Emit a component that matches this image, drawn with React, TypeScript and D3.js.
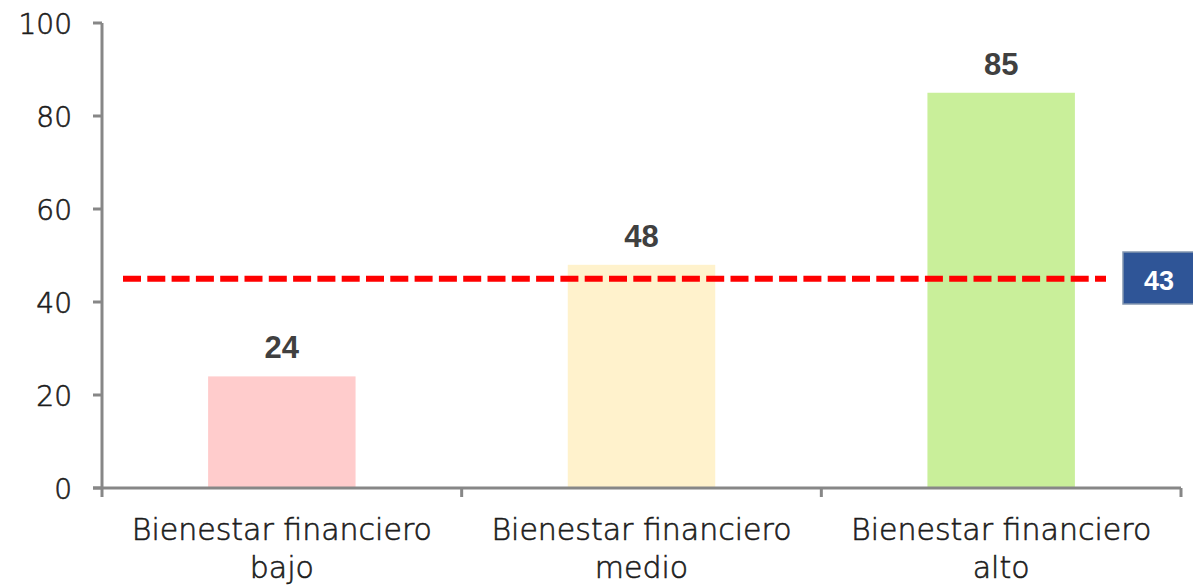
import React from "react";
import * as d3 from "d3";

const categories = ["Bienestar financiero bajo", "Bienestar financiero medio", "Bienestar financiero alto"];
const labelLines = [
  ["Bienestar financiero", "bajo"],
  ["Bienestar financiero", "medio"],
  ["Bienestar financiero", "alto"],
];
const values = [24, 48, 85];
const barColors = ["#FFCCCC", "#FFF2CC", "#C9EF9A"];
const yTicks = [0, 20, 40, 60, 80, 100];
const refValue = 45;
const refLabel = "43";

const W = 1193, H = 585;
const axisLeft = 102, axisRight = 1181;
const y0 = 488, yTop = 23;

export default function App() {
  const x = d3.scaleBand<string>().domain(categories).range([axisLeft, axisRight])
    .paddingInner(0.59).paddingOuter(0.295);
  const y = d3.scaleLinear().domain([0, 100]).range([y0, yTop]);
  const step = x.step();
  const boundaries = d3.range(categories.length + 1).map(i => axisLeft + i * step);
  const font = "'DejaVu Sans', sans-serif";
  const axisColor = "#878787";
  const ink = "#1c1c1c";

  return (
    <svg width={W} height={H} style={{ position: "absolute", left: 0, top: 0 }}>
      {/* bars */}
      {categories.map((c, i) => (
        <rect key={c} x={x(c)} y={y(values[i])} width={x.bandwidth()} height={y0 - y(values[i])} fill={barColors[i]} />
      ))}
      {/* value labels */}
      {categories.map((c, i) => (
        <text key={"v" + c} x={(x(c) as number) + x.bandwidth() / 2} y={y(values[i]) - 18}
          textAnchor="middle" fontFamily="'Liberation Sans', Arial, sans-serif" fontWeight="bold"
          fontSize={31} fill="#404040">{values[i]}</text>
      ))}
      {/* reference line */}
      <line x1={123} x2={1106} y1={y(refValue)} y2={y(refValue)} stroke="#FF0000" strokeWidth={6}
        strokeDasharray="18,6.3" />
      <rect x={1123} y={252} width={80} height={52} fill="#2F5597" stroke="#8497B0" strokeWidth={1.5} />
      <text x={1159} y={290} textAnchor="middle" fontFamily="'Liberation Sans', Arial, sans-serif"
        fontWeight="bold" fontSize={27} fill="#FFFFFF">{refLabel}</text>
      {/* y axis */}
      <line x1={axisLeft} x2={axisLeft} y1={yTop} y2={y0} stroke={axisColor} strokeWidth={3} />
      {yTicks.map(t => (
        <g key={t}>
          <line x1={axisLeft - 9} x2={axisLeft} y1={y(t)} y2={y(t)} stroke={axisColor} strokeWidth={3} />
          <text x={72} y={y(t) + 11} textAnchor="end" fontFamily={font} fontWeight={300} fontSize={28}
            fill={ink} stroke={ink} strokeWidth={0.6}>{t}</text>
        </g>
      ))}
      {/* x axis */}
      <line x1={axisLeft - 9} x2={axisRight} y1={y0} y2={y0} stroke={axisColor} strokeWidth={3} />
      {boundaries.map((b, i) => (
        <line key={i} x1={b} x2={b} y1={y0} y2={y0 + 9} stroke={axisColor} strokeWidth={3} />
      ))}
      {categories.map((c, i) => (
        <text key={"l" + c} x={(x(c) as number) + x.bandwidth() / 2} textAnchor="middle"
          fontFamily={font} fontWeight={300} fontSize={30} fill={ink} stroke={ink} strokeWidth={0.6}>
          {labelLines[i].map((ln, j) => (
            <tspan key={j} x={(x(c) as number) + x.bandwidth() / 2} y={540 + j * 38}>{ln}</tspan>
          ))}
        </text>
      ))}
    </svg>
  );
}
